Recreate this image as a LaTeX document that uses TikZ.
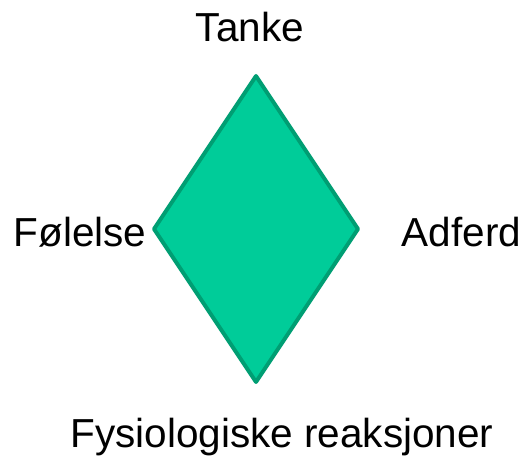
\documentclass[tikz,border=0pt]{standalone}
\usepackage{fontspec}
\setmainfont{Liberation Sans}
\definecolor{dfill}{HTML}{00CC99}
\definecolor{dline}{HTML}{009E73}
\begin{document}
\begin{tikzpicture}[x=1pt,y=1pt,
  lbl/.style={font=\fontsize{40.5}{44}\selectfont, inner sep=0pt, anchor=base}]
\useasboundingbox (0,0) rectangle (521,457);
\coordinate (T) at (256,381);
\coordinate (L) at (154,228);
\coordinate (R) at (358,228);
\coordinate (B) at (256,75);
\filldraw[fill=dfill, draw=dline, line width=4pt, line join=round] (T) -- (R) -- (B) -- (L) -- cycle;
\node[lbl] (tanke) at (250,415) {Tanke};
\node[lbl] (folelse) at (80,210) {Følelse};
\node[lbl] (adferd) at (461.5,210) {Adferd};
\node[lbl] (fysio) at (282,10) {Fysiologiske reaksjoner};
\end{tikzpicture}
\end{document}
